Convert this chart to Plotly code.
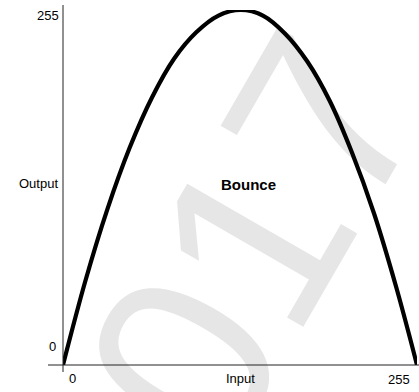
import plotly.graph_objects as go

# Data (Input 0..255 -> Output 0..255)
input_vals = [0, 16, 32, 48, 64, 80, 96, 112, 128, 144, 160, 176, 192, 208, 224, 240, 255]
output_vals = [0, 60, 112, 156, 192, 220, 239, 251, 255, 251, 238, 218, 190, 153, 109, 56, 0]

x_tick_labels = ["0", "255"]
y_tick_labels = ["0", "255"]
x_title = "Input"
y_title = "Output"
chart_title = "Bounce"
watermark = "2017"

W, H = 419, 392
ML, MR, MT, MB = 63, 2, 10, 27
PW, PH = W - ML - MR, H - MT - MB


def px(xp):
    return (xp - ML) / PW


def py(yp):
    return (H - MB - yp) / PH


fig = go.Figure()
fig.add_trace(go.Scatter(
    x=input_vals, y=output_vals, mode="lines",
    line=dict(color="black", width=4.2, shape="spline", smoothing=1.0),
    cliponaxis=False, hoverinfo="skip", showlegend=False,
))

label_font = dict(family="Liberation Sans, Arial, sans-serif", size=13, color="black")

annotations = [
    dict(text=y_tick_labels[1], x=px(61), y=py(16), xanchor="right", yanchor="middle"),
    dict(text=y_title, x=px(60), y=py(183), xanchor="right", yanchor="middle"),
    dict(text=y_tick_labels[0], x=px(58), y=py(346), xanchor="right", yanchor="middle"),
    dict(text=x_tick_labels[0], x=px(67), y=py(378), xanchor="left", yanchor="middle"),
    dict(text=x_title, x=px(240), y=py(378), xanchor="center", yanchor="middle"),
    dict(text=x_tick_labels[1], x=px(399), y=py(379), xanchor="center", yanchor="middle"),
]
for a in annotations:
    a.update(xref="paper", yref="paper", showarrow=False, font=label_font)

annotations.append(dict(
    text="<b>" + chart_title + "</b>", x=px(248), y=py(184), xref="paper", yref="paper",
    showarrow=False, xanchor="center", yanchor="middle",
    font=dict(family="Liberation Sans, Arial, sans-serif", size=15, color="black"),
))

shapes = [
    # watermark, drawn beneath the curve
    dict(type="rect", xref="paper", yref="paper",
         x0=px(197), x1=px(199), y0=py(289), y1=py(287),
         line=dict(width=0), fillcolor="rgba(0,0,0,0)", layer="below",
         label=dict(text=watermark, textposition="middle center", textangle=-60,
                    font=dict(family="Liberation Sans, Arial, sans-serif", size=250,
                              color="#e6e6e6"))),
    # left axis line
    dict(type="line", xref="paper", yref="paper",
         x0=px(63), x1=px(63), y0=py(372), y1=py(5),
         line=dict(color="#222222", width=1)),
    # bottom axis line
    dict(type="line", xref="paper", yref="paper",
         x0=px(48), x1=px(419), y0=py(365), y1=py(365),
         line=dict(color="#222222", width=1)),
]

fig.update_layout(
    width=W, height=H,
    margin=dict(l=ML, r=MR, t=MT, b=MB, pad=0),
    paper_bgcolor="white", plot_bgcolor="white",
    xaxis=dict(range=[0, 255], visible=False, fixedrange=True),
    yaxis=dict(range=[0, 255], visible=False, fixedrange=True),
    annotations=annotations, shapes=shapes,
    showlegend=False,
)

fig.write_html("out.html", config={"displayModeBar": False},
               post_script="document.body.style.margin='0';document.body.style.overflow='hidden';")
